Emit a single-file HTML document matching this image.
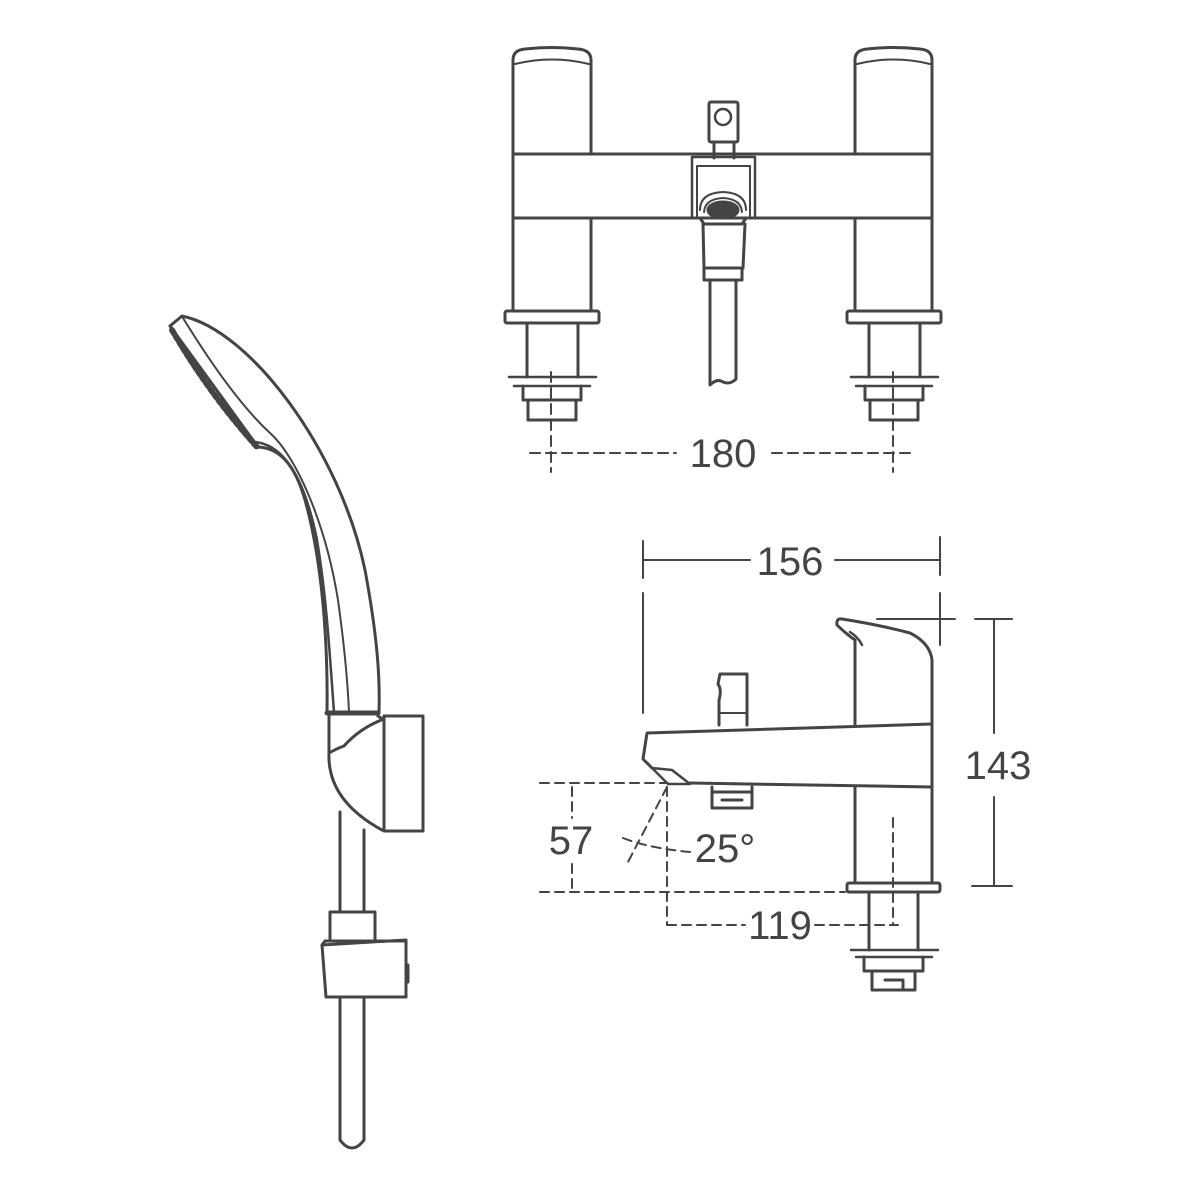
<!DOCTYPE html>
<html><head><meta charset="utf-8"><style>
html,body{margin:0;padding:0;background:#fff;}
svg{display:block;}
text{font-family:"Liberation Sans",sans-serif;fill:#444;}
</style></head><body>
<svg width="1200" height="1200" viewBox="0 0 1200 1200" xmlns="http://www.w3.org/2000/svg">
<g fill="none" stroke="#444" stroke-width="3" stroke-linejoin="round" stroke-linecap="round">
<!-- TOP VIEW -->
<path d="M513 154 V60 Q513 50 525 49 Q552 46 578 49 Q591 50 591 60 V154"/>
<path d="M515 64 Q552 55 589 64" stroke-width="2"/>
<path d="M513 218 V311 M591 218 V311"/>
<rect x="505" y="311" width="94" height="12" rx="2"/>
<path d="M527 323 V377 M578 323 V377"/>
<path d="M509 377 H596 M514 386 H590" stroke-width="2.5"/>
<path d="M523 386 V400 H581 V386 M528 400 V420 H576 V400"/>
<path d="M855 154 V60 Q855 50 867 49 Q894 46 920 49 Q932 50 932 60 V154"/>
<path d="M857 64 Q894 55 930 64" stroke-width="2"/>
<path d="M855 218 V311 M932 218 V311"/>
<rect x="847" y="311" width="94" height="12" rx="2"/>
<path d="M869 323 V377 M920 323 V377"/>
<path d="M851 377 H938 M856 386 H932" stroke-width="2.5"/>
<path d="M865 386 V400 H923 V386 M870 400 V420 H918 V400"/>
<path d="M513 154 H932 M513 218 H932 M513 154 V218 M932 154 V218"/>
<rect x="709" y="102" width="29" height="40" rx="2"/>
<circle cx="723" cy="117" r="8" stroke-width="2.5"/>
<path d="M714 142 V158 M734 142 V158"/>
<path d="M692 157 V216 M755 157 V216 M692 157 H755" stroke-width="2.5"/>
<path d="M697 166 H750 M697 166 V216 M750 166 V216" stroke-width="2"/>
<path d="M700 210 Q700 193 723 192 Q746 193 746 210" stroke-width="2"/>
<path d="M704 212 Q705 199 723 198 Q741 199 742 212" stroke-width="2"/>
<ellipse cx="723" cy="210" rx="15" ry="8" fill="#444"/>
<path d="M700 218 L704 224 H742 L746 218"/>
<path d="M703 224 L704 268 H743 L745 224 M704 268 V280 H742 V268"/>
<path d="M710 280 V385 Q717 378 723 382 Q730 385 736 379 V280"/>
<g stroke-width="2" stroke-dasharray="10 6">
<path d="M551 372 V472 M893 372 V472"/>
<path d="M530 453 H676 M772 453 H912"/>
</g>
<!-- SIDE VIEW -->
<g stroke-width="2">
<path d="M643 541 V578 M940 537 V575 M643 560 H750 M835 560 H940"/>
<path d="M643 593 V713 M940 593 V645 M877 619 H955"/>
<path d="M994 619 V733 M994 797 V886 M975 619 H1012 M972 886 H1012"/>
</g>
<path d="M855 724 V640 Q845 633 837 625 Q836 618 842 619 Q880 625 910 633 Q930 643 932 660 V787"/>
<path d="M850 632 Q858 637 862 645" stroke-width="2.5"/>
<path d="M932 724 L647 733 L643 759 L652 768 M932 787 L690 783"/>
<path d="M652 768 L668 784 L690 784 L672 770 L652 768 Z" stroke-width="2.5"/>
<path d="M719 725 V700 Q722 690 718 684 L720 674 H747 V725"/>
<path d="M721 713 H747" stroke-width="2"/>
<path d="M712 787 V808 H752 V787 M712 792 H752 M722 800 H742"/>
<path d="M855 787 V883 M932 787 V883"/>
<rect x="847" y="883" width="93" height="9" rx="2"/>
<path d="M869 892 V950 M918 892 V950"/>
<path d="M851 950 H938 M856 957 H932" stroke-width="2.5"/>
<path d="M864 957 V971 H923 V957 M872 971 V990 H915 V971 M885 980 H903 V990"/>
<g stroke-width="2" stroke-dasharray="9 6">
<path d="M540 783 H668 M540 892 H845 M572 787 V818 M572 864 V892"/>
<path d="M667 787 V925 M667 925 H745 M815 925 H898 M893 818 V925"/>
<path d="M667 787 L628 862 M623 838 Q648 848 690 852"/>
</g>
<!-- SHOWER -->
<path d="M170 326 L182 316 C250 330 340 450 365 570 C378 640 380 680 379 712 H327 C328 640 322 560 305 500 C295 465 280 448 258 447 L170 326"/>
<path d="M183 318 C215 370 245 410 270 433 C295 455 325 520 338 600 C345 650 348 690 349 712" stroke-width="2"/>
<path d="M172 330 Q210 395 258 448" stroke-width="6" stroke-dasharray="4 3"/>
<path d="M255 442 C285 445 305 480 317 540 C327 600 330 660 334 712" stroke-width="2.5"/>
<path d="M327 713 H378" stroke-width="5"/>
<path d="M329 716 V753 Q327 800 382 830 M378 716 L384 720"/>
<path d="M329 753 Q338 748 344 746 Q360 728 384 719"/>
<rect x="384" y="716" width="39" height="115"/>
<path d="M340 812 V912 M364 830 V912 M340 997 V1140 Q352 1156 364 1140 V997"/>
<rect x="330" y="912" width="45" height="29"/>
<path d="M322 945 L406 940 V997 H326 Z"/>
<path d="M322 945 L325 941 H405" stroke-width="3"/>
<path d="M408 965 V982" stroke-width="3"/>
</g>
<text x="723" y="467" font-size="40" text-anchor="middle">180</text>
<text x="790" y="575" font-size="40" text-anchor="middle">156</text>
<text x="998" y="779" font-size="40" text-anchor="middle">143</text>
<text x="571" y="854" font-size="40" text-anchor="middle">57</text>
<text x="725" y="862" font-size="40" text-anchor="middle">25°</text>
<text x="780" y="939" font-size="40" text-anchor="middle">119</text>
</svg>
</body></html>
